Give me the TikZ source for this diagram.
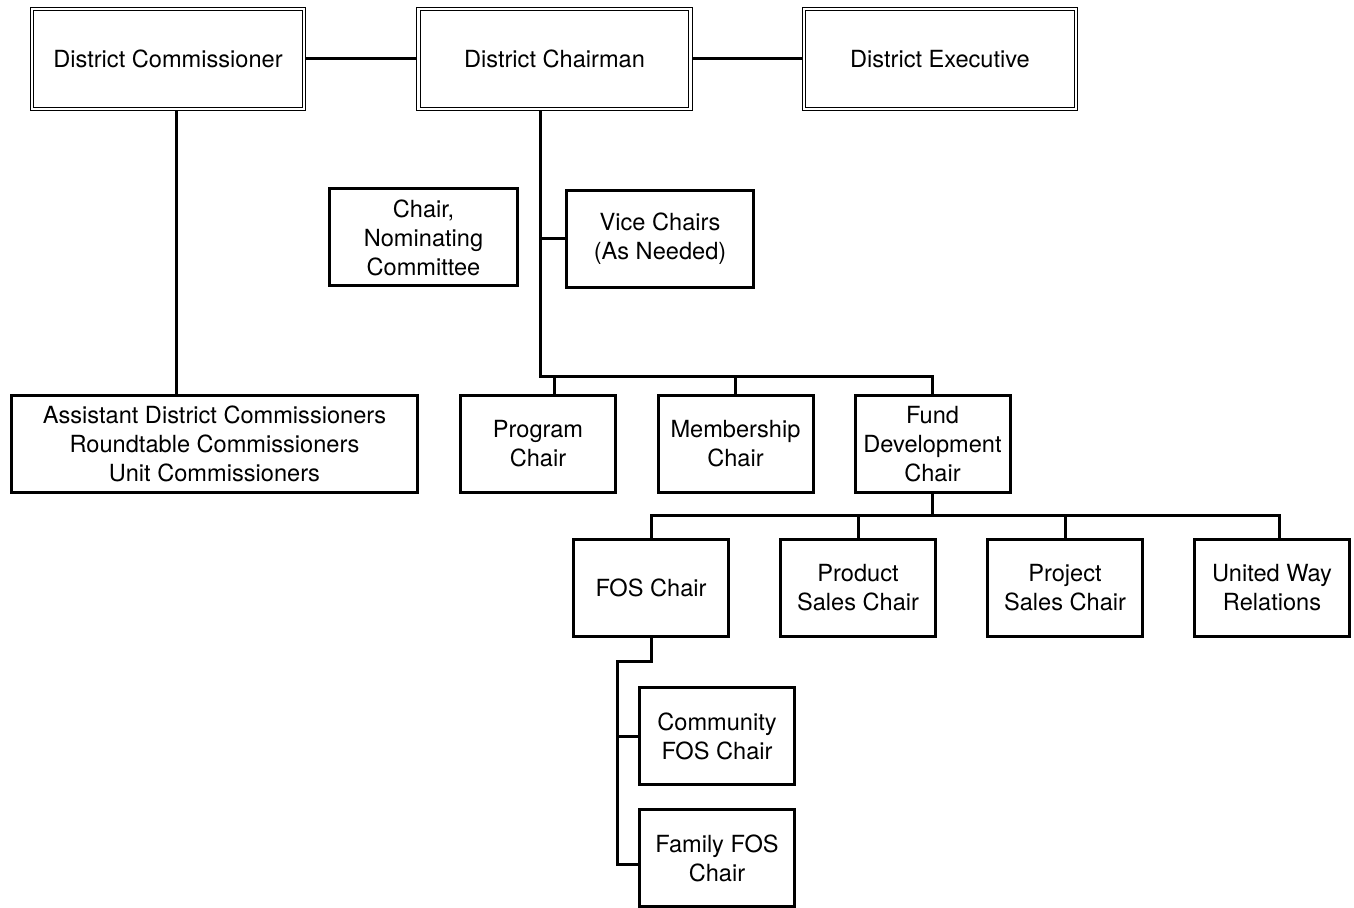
\documentclass[tikz,border=0pt]{standalone}
\usepackage{fontspec}
\setmainfont{TeX Gyre Heros}
\usetikzlibrary{backgrounds}
\begin{document}
\begin{tikzpicture}[x=0.5pt,y=-0.5pt,
    every node/.style={font=\fontsize{11.8}{14.5}\selectfont, align=center, inner sep=0pt},
    chairbox/.style={draw, fill=white, line width=1.5pt, minimum width=77.5pt, minimum height=48.5pt},
    headbox/.style={draw, fill=white, double, line width=0.6pt, double distance=1.2pt, minimum width=136pt, minimum height=50pt},
    link/.style={line width=1.5pt}]
  \useasboundingbox (0,0) rectangle (1354,908);
  % district heads
  \node[headbox] (dcomm) at (168,59) {District Commissioner};
  \node[headbox] (dchair) at (554.5,59) {District Chairman};
  \node[headbox] (dexec) at (940,59) {District Executive};
  % commissioner staff
  \node[chairbox, minimum width=203pt] (adc) at (214.5,444) {Assistant District Commissioners\\Roundtable Commissioners\\Unit Commissioners};
  % chairman staff
  \node[chairbox, minimum width=94pt] (nomin) at (423.5,237.5) {Chair,\\Nominating\\Committee};
  \node[chairbox, minimum width=93.5pt] (vice) at (660,239) {Vice Chairs\\(As Needed)};
  \node[chairbox] (prog) at (538,444) {Program\\Chair};
  \node[chairbox] (memb) at (735.5,444) {Membership\\Chair};
  \node[chairbox] (fund) at (932.5,444) {Fund\\Development\\Chair};
  % fund development
  \node[chairbox] (fos) at (651,588) {FOS Chair};
  \node[chairbox] (prod) at (858,588) {Product\\Sales Chair};
  \node[chairbox] (proj) at (1065,588) {Project\\Sales Chair};
  \node[chairbox] (uway) at (1272,588) {United Way\\Relations};
  \node[chairbox] (comm) at (717,736) {Community\\FOS Chair};
  \node[chairbox] (fam) at (717,858) {Family FOS\\Chair};
  \begin{scope}[on background layer]
    \draw[link] (dcomm) -- (dchair) -- (dexec);
    \draw[link] ([xshift=4pt]dcomm.south) -- ([xshift=4pt]dcomm.south |- adc.north);
    \coordinate (cbus) at (540,377);
    \draw[link] ([xshift=-7.25pt]dchair.south) -- (cbus) -| (fund.north);
    \draw[link] (vice.west) -- (vice.west -| cbus);
    \draw[link] ([xshift=8pt]prog.north) -- ([xshift=8pt]prog.north |- cbus);
    \draw[link] (memb.north) -- (memb.north |- cbus);
    \path (fund.south) ++(0,22) coordinate (fbus);
    \draw[link] (fund.south) -- (fbus);
    \draw[link] (fos.north) |- (fbus) -| ([xshift=3.5pt]uway.north);
    \draw[link] (prod.north) -- (prod.north |- fbus);
    \draw[link] (proj.north) -- (proj.north |- fbus);
    \coordinate (fosspine) at (617,661);
    \draw[link] (fos.south) |- (fosspine) |- ([yshift=-3pt]fam.west);
    \draw[link] (comm.west) -- (comm.west -| fosspine);
  \end{scope}
\end{tikzpicture}
\end{document}
